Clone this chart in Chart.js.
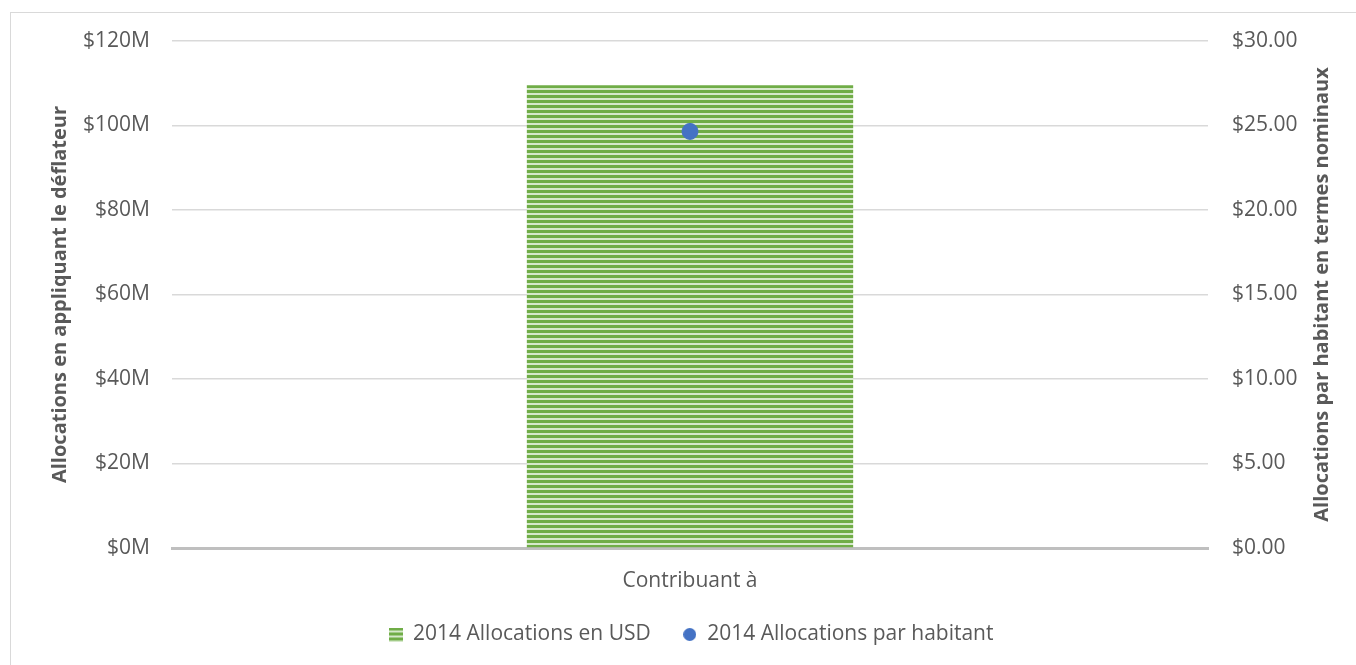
<!DOCTYPE html>
<html>
<head>
<meta charset="utf-8">
<script src="https://cdn.jsdelivr.net/npm/chart.js@4.4.1/dist/chart.umd.min.js"></script>
<style>
  html, body { margin: 0; padding: 0; background: #fff; }
  #frame { position: absolute; left: 10px; top: 12px; width: 1356px; height: 670px; border: 1px solid #D9D9D9; }
  #wrap { position: absolute; left: 0; top: 0; width: 1356px; height: 665px; }
</style>
</head>
<body>
<div id="frame"></div>
<div id="wrap"><canvas id="chart"></canvas></div>
<script>
// Données du graphique
const categories = ['Contribuant à'];
const allocationsUSD = [109.5];        // en millions
const allocationsHabitant = [24.65];   // en dollars
const leftTicks = [0, 20, 40, 60, 80, 100, 120];
const rightTicks = [0, 5, 10, 15, 20, 25, 30];

const green = '#70AD47';
const lightGreen = '#D6E9CB';
const blue = '#4472C4';
const grey = '#595959';
const rightTitle = 'Allocations par habitant en termes nominaux';

// Motif rayé horizontal pour la barre
function stripeCanvas(w, h) {
    const c = document.createElement('canvas');
    c.width = w;
    c.height = h;
    const g = c.getContext('2d');
    g.fillStyle = green;
    g.fillRect(0, 0, w, h);
    g.fillStyle = lightGreen;
    for (let y = 3; y < h; y += 5) {
        g.fillRect(0, y, w, 2);
    }
    return c;
}

function dotCanvas(d) {
    const c = document.createElement('canvas');
    c.width = d;
    c.height = d;
    const g = c.getContext('2d');
    g.fillStyle = blue;
    g.beginPath();
    g.arc(d / 2, d / 2, d / 2, 0, Math.PI * 2);
    g.fill();
    return c;
}

const stripePattern = document.createElement('canvas').getContext('2d')
    .createPattern(stripeCanvas(8, 5), 'repeat');
const legendIcons = {
    '2014 Allocations en USD': stripeCanvas(14, 14),
    '2014 Allocations par habitant': dotCanvas(13)
};

const font = { family: '"Open Sans", "Noto Sans", sans-serif', size: 21 };
const titleFont = { family: font.family, size: 20, weight: 'bold' };

// Titre de l'axe droit, lu de bas en haut comme celui de gauche
const rightTitlePlugin = {
    id: 'rightTitle',
    afterDraw(c) {
        const s = c.scales.y1;
        const g = c.ctx;
        g.save();
        g.translate(s.right - 16, (c.chartArea.top + c.chartArea.bottom) / 2);
        g.rotate(-Math.PI / 2);
        g.font = 'bold 20px ' + font.family;
        g.fillStyle = grey;
        g.textAlign = 'center';
        g.textBaseline = 'middle';
        g.fillText(rightTitle, 0, 0);
        g.restore();
    }
};

const ctx = document.getElementById('chart').getContext('2d');
const chart = new Chart(ctx, {
    data: {
        labels: categories,
        datasets: [{
            type: 'line',
            label: '2014 Allocations par habitant',
            data: allocationsHabitant,
            yAxisID: 'y1',
            showLine: false,
            pointRadius: 8,
            pointHoverRadius: 8,
            pointBackgroundColor: blue,
            pointBorderColor: blue,
            backgroundColor: blue,
            borderColor: blue,
            order: 1
        }, {
            type: 'bar',
            label: '2014 Allocations en USD',
            data: allocationsUSD,
            yAxisID: 'y',
            backgroundColor: stripePattern,
            borderWidth: 0,
            categoryPercentage: 1,
            barPercentage: 0.315,
            order: 2
        }]
    },
    options: {
        responsive: true,
        maintainAspectRatio: false,
        animation: false,
        layout: { padding: { top: 41, bottom: 10, left: 44, right: 18 } },
        plugins: {
            tooltip: { enabled: false },
            legend: {
                position: 'bottom',
                reverse: true,
                labels: {
                    usePointStyle: true,
                    boxWidth: 14,
                    boxHeight: 14,
                    color: grey,
                    font: font,
                    padding: 32,
                    generateLabels: function(c) {
                        const items = Chart.defaults.plugins.legend.labels.generateLabels(c);
                        items.forEach(it => { it.pointStyle = legendIcons[it.text]; });
                        return items;
                    }
                }
            }
        },
        scales: {
            x: {
                grid: { display: false },
                border: { color: '#BFBFBF', width: 3 },
                ticks: { color: grey, font: font, padding: 12 },
                afterFit: s => { s.height = 44; }
            },
            y: {
                position: 'left',
                min: 0,
                max: 120,
                afterBuildTicks: s => { s.ticks = leftTicks.map(v => ({ value: v })); },
                ticks: { color: grey, font: font, padding: 22, callback: v => '$' + v + 'M' },
                grid: { color: '#D9D9D9', lineWidth: 1.5, drawTicks: false },
                border: { display: false },
                title: {
                    display: true,
                    text: 'Allocations en appliquant le déflateur',
                    color: grey,
                    font: titleFont
                },
                afterFit: s => { s.width = 128; }
            },
            y1: {
                position: 'right',
                min: 0,
                max: 30,
                afterBuildTicks: s => { s.ticks = rightTicks.map(v => ({ value: v })); },
                ticks: { color: grey, font: font, padding: 24, callback: v => '$' + v.toFixed(2) },
                grid: { drawOnChartArea: false, drawTicks: false },
                border: { display: false },
                title: { display: false },
                afterFit: s => { s.width = 130; }
            }
        }
    },
    plugins: [rightTitlePlugin]
});
</script>
</body>
</html>
